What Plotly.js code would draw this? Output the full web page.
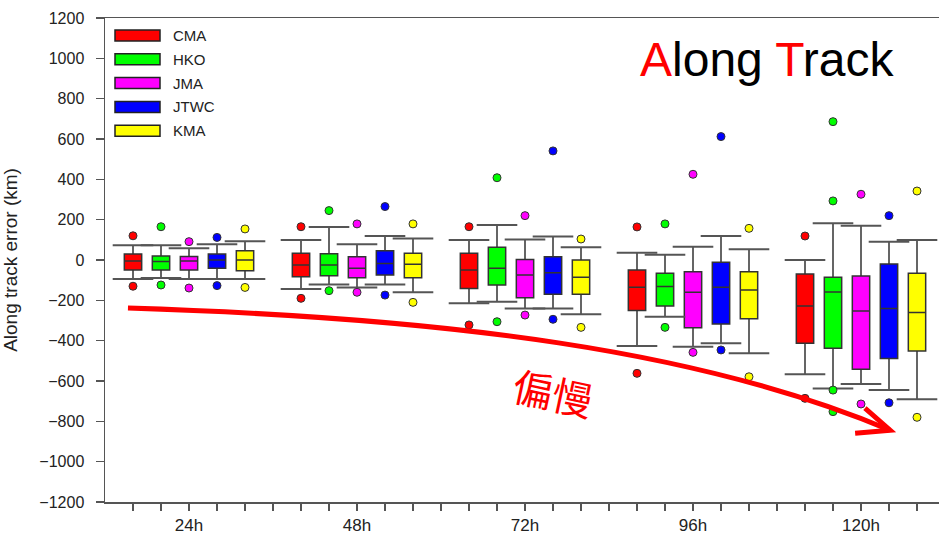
<!DOCTYPE html>
<html><head><meta charset="utf-8">
<script src="https://cdn.plot.ly/plotly-3.0.1.min.js"></script>
<style>html,body{margin:0;padding:0;background:#fff}</style>
</head><body>
<div id="chart" style="width:939px;height:534px"></div>
<script>
// ---- data (km) ----
const groups = ['24h', '48h', '72h', '96h', '120h'];
const series = ['CMA', 'HKO', 'JMA', 'JTWC', 'KMA'];
const colors = ['#ff0000', '#00ff00', '#ff00ff', '#0000ff', '#ffff00'];

// per series (rows) x per lead time (columns)
const whiskerHigh = [
  [73, 99, 99, 36, 0],
  [73, 164, 174, 26, 182],
  [58, 78, 102, 66, 170],
  [78, 119, 116, 119, 91],
  [93, 107, 63, 53, 99]
];
const q3 = [
  [30, 33, 33, -50, -69],
  [20, 31, 63, -66, -86],
  [17, 16, 3, -58, -79],
  [30, 46, 16, -11, -20],
  [46, 33, 0, -58, -66]
];
const median = [
  [-5, -25, -50, -135, -228],
  [-8, -25, -41, -132, -159],
  [-5, -41, -74, -160, -253],
  [0, -17, -63, -135, -240],
  [0, -21, -86, -149, -260]
];
const q1 = [
  [-50, -83, -141, -251, -413],
  [-50, -78, -124, -228, -438],
  [-50, -88, -187, -336, -542],
  [-41, -74, -170, -317, -488],
  [-53, -88, -170, -291, -451]
];
const whiskerLow = [
  [-94, -144, -215, -427, -567],
  [-89, -121, -207, -281, -637],
  [-94, -136, -240, -430, -615],
  [-94, -121, -240, -413, -645],
  [-94, -160, -269, -463, -691]
];
const cmaOutliers  = [[120, -130], [165, -190], [165, -322], [164, -562], [119, -686]];
const hkoOutliers  = [[165, -124], [245, -152], [408, -306], [179, -334], [686, 293, -645, -752]];
const jmaOutliers  = [[91, -139], [179, -160], [220, -273], [425, -458], [326, -714]];
const jtwcOutliers = [[112, -127], [265, -174], [541, -294], [612, -446], [220, -708]];
const kmaOutliers  = [[154, -136], [179, -210], [104, -334], [157, -579], [342, -780]];
const outliers = [cmaOutliers, hkoOutliers, jmaOutliers, jtwcOutliers, kmaOutliers];

const titleText = '<span style="color:#ff0000">A</span>long <span style="color:#ff0000">T</span>rack';
const yTitle = 'Along track error (km)';
const noteText = '偏慢';

// ---- layout helpers ----
const slotsPerGroup = series.length + 1;
const pos = (g, s) => g * slotsPerGroup + s + 1;
const FONT = 'Liberation Sans, Arial, sans-serif';

const traces = [];
series.forEach((name, s) => {
  traces.push({
    type: 'box', name: name,
    x: groups.map((_, g) => pos(g, s)),
    q1: q1[s], median: median[s], q3: q3[s],
    lowerfence: whiskerLow[s], upperfence: whiskerHigh[s],
    fillcolor: colors[s],
    line: {color: '#333333', width: 1.5},
    width: 0.62, whiskerwidth: 0,
    boxpoints: false, hoverinfo: 'skip', showlegend: false
  });
});
// whisker caps
series.forEach((name, s) => {
  const xs = [], ys = [];
  groups.forEach((_, g) => {
    xs.push(pos(g, s), pos(g, s));
    ys.push(whiskerHigh[s][g], whiskerLow[s][g]);
  });
  traces.push({
    type: 'scatter', mode: 'markers', x: xs, y: ys, showlegend: false, hoverinfo: 'skip',
    marker: {symbol: 'line-ew-open', size: 29, color: '#555555', line: {color: '#555555', width: 2}}
  });
});
// outlier dots
series.forEach((name, s) => {
  const xs = [], ys = [];
  outliers[s].forEach((vals, g) => vals.forEach(v => { xs.push(pos(g, s)); ys.push(v); }));
  traces.push({
    type: 'scatter', mode: 'markers', x: xs, y: ys, showlegend: false, hoverinfo: 'skip',
    marker: {symbol: 'circle', size: 8, color: colors[s], line: {color: '#333333', width: 1}}
  });
});

// x ticks: one at every slot, label at group centre
const tickvals = [], ticktext = [];
for (let g = 0; g < groups.length; g++) {
  for (let s = 0; s < slotsPerGroup; s++) {
    const v = g * slotsPerGroup + s + 1;
    if (v > groups.length * slotsPerGroup - 1) continue;
    tickvals.push(v);
    ticktext.push(s === Math.floor(series.length / 2) ? groups[g] : '');
  }
}

const shapes = [];
const annotations = [];
// custom legend
series.forEach((name, s) => {
  const top = 30 + s * 23.8, h = 11;
  shapes.push({type: 'rect', xref: 'paper', yref: 'paper',
    x0: (115 - 105) / 834, x1: (160 - 105) / 834,
    y0: (502 - top - h) / 484, y1: (502 - top) / 484,
    fillcolor: colors[s], line: {color: '#222', width: 1.5}});
  annotations.push({xref: 'paper', yref: 'paper', x: (171 - 105) / 834, y: (502 - top - h / 2) / 484,
    xanchor: 'left', yanchor: 'middle', text: name, showarrow: false,
    font: {family: FONT, size: 15, color: '#222'}});
});
// red trend arrow (data coordinates)
shapes.push({type: 'path', xref: 'x', yref: 'y',
  path: 'M0.82,-238 C12.32,-288 21.25,-447 28.04,-844',
  line: {color: '#ff0000', width: 5}});
shapes.push({type: 'path', xref: 'x', yref: 'y',
  path: 'M27.14,-735 L28.04,-844 L26.79,-859',
  line: {color: '#ff0000', width: 5}});

annotations.push({xref: 'paper', yref: 'paper', x: (767 - 105) / 834, y: (502 - 59) / 484,
  xanchor: 'center', yanchor: 'middle', text: titleText, showarrow: false,
  font: {family: FONT, size: 48, color: '#000'}});
annotations.push({xref: 'paper', yref: 'paper', x: (553 - 105) / 834, y: (502 - 392) / 484,
  xanchor: 'center', yanchor: 'middle', text: noteText, showarrow: false, textangle: 12,
  font: {family: 'Noto Sans CJK TC, sans-serif', size: 40, color: '#ff0000'}});

const layout = {
  width: 939, height: 534,
  margin: {l: 105, r: 0, t: 18, b: 32},
  paper_bgcolor: '#fff', plot_bgcolor: '#fff',
  boxmode: 'overlay', showlegend: false,
  font: {family: FONT, color: '#222'},
  xaxis: {
    range: [0, 834 / 28], tickmode: 'array', tickvals: tickvals, ticktext: ticktext,
    ticks: 'outside', ticklen: 7, tickwidth: 1.5, tickcolor: '#555',
    showline: true, linecolor: '#555', linewidth: 1.5, mirror: true,
    showgrid: false, zeroline: false, ticklabelstandoff: 0,
    tickfont: {family: FONT, size: 17, color: '#222'}
  },
  yaxis: {
    range: [-1200, 1200], dtick: 200, tick0: 0,
    ticks: 'outside', ticklen: 8, tickwidth: 1.5, tickcolor: '#555',
    showline: true, linecolor: '#555', linewidth: 1.5,
    showgrid: false, zeroline: false, ticklabelstandoff: 8,
    tickfont: {family: FONT, size: 16, color: '#222'},
    title: {text: yTitle, font: {family: FONT, size: 19, color: '#222'}, standoff: 16}
  },
  shapes: shapes, annotations: annotations
};
Plotly.newPlot('chart', traces, layout, {staticPlot: true});
</script>
</body></html>
